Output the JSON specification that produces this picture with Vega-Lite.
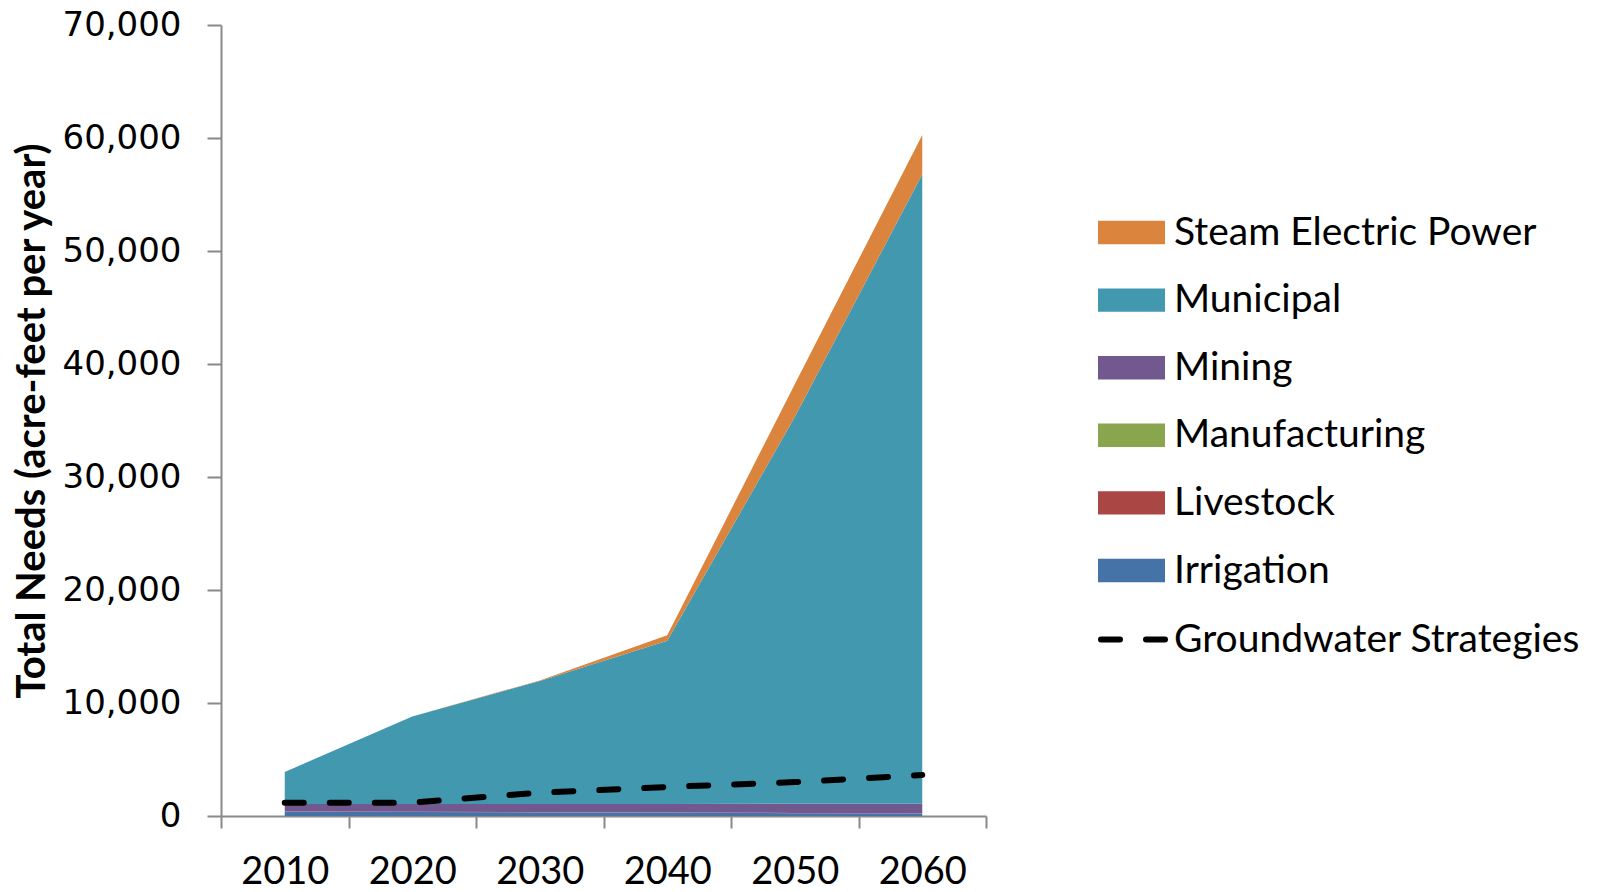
{
  "$schema": "https://vega.github.io/schema/vega-lite/v6.json",
  "width": 765,
  "height": 791,
  "autosize": {"type": "none"},
  "padding": {"left": 221, "top": 25, "right": 622, "bottom": 76},
  "background": "white",
  "config": {"view": {"stroke": null}, "font": "Lato"},
  "datasets": {
    "needs": [
      {"year": 2010, "category": "Irrigation", "value": 380},
      {"year": 2010, "category": "Livestock", "value": 20},
      {"year": 2010, "category": "Manufacturing", "value": 0},
      {"year": 2010, "category": "Mining", "value": 660},
      {"year": 2010, "category": "Municipal", "value": 2840},
      {"year": 2010, "category": "Steam Electric Power", "value": 0},
      {"year": 2020, "category": "Irrigation", "value": 350},
      {"year": 2020, "category": "Livestock", "value": 20},
      {"year": 2020, "category": "Manufacturing", "value": 0},
      {"year": 2020, "category": "Mining", "value": 700},
      {"year": 2020, "category": "Municipal", "value": 7730},
      {"year": 2020, "category": "Steam Electric Power", "value": 0},
      {"year": 2030, "category": "Irrigation", "value": 320},
      {"year": 2030, "category": "Livestock", "value": 20},
      {"year": 2030, "category": "Manufacturing", "value": 0},
      {"year": 2030, "category": "Mining", "value": 730},
      {"year": 2030, "category": "Municipal", "value": 10880},
      {"year": 2030, "category": "Steam Electric Power", "value": 50},
      {"year": 2040, "category": "Irrigation", "value": 280},
      {"year": 2040, "category": "Livestock", "value": 20},
      {"year": 2040, "category": "Manufacturing", "value": 0},
      {"year": 2040, "category": "Mining", "value": 770},
      {"year": 2040, "category": "Municipal", "value": 14430},
      {"year": 2040, "category": "Steam Electric Power", "value": 500},
      {"year": 2050, "category": "Irrigation", "value": 250},
      {"year": 2050, "category": "Livestock", "value": 20},
      {"year": 2050, "category": "Manufacturing", "value": 0},
      {"year": 2050, "category": "Mining", "value": 810},
      {"year": 2050, "category": "Municipal", "value": 34220},
      {"year": 2050, "category": "Steam Electric Power", "value": 2900},
      {"year": 2060, "category": "Irrigation", "value": 220},
      {"year": 2060, "category": "Livestock", "value": 20},
      {"year": 2060, "category": "Manufacturing", "value": 0},
      {"year": 2060, "category": "Mining", "value": 850},
      {"year": 2060, "category": "Municipal", "value": 55710},
      {"year": 2060, "category": "Steam Electric Power", "value": 3470}
    ],
    "gw": [
      {"year": 2010, "series": "Groundwater Strategies", "value": 1180},
      {"year": 2020, "series": "Groundwater Strategies", "value": 1180},
      {"year": 2030, "series": "Groundwater Strategies", "value": 2060},
      {"year": 2040, "series": "Groundwater Strategies", "value": 2570},
      {"year": 2050, "series": "Groundwater Strategies", "value": 3000},
      {"year": 2060, "series": "Groundwater Strategies", "value": 3630}
    ]
  },
  "layer": [
    {
      "data": {"name": "needs"},
      "mark": {"type": "area", "opacity": 1},
      "encoding": {
        "x": {
          "field": "year",
          "type": "quantitative",
          "scale": {"domain": [2005, 2065], "nice": false, "zero": false},
          "axis": {
            "title": null,
            "grid": false,
            "values": [2005, 2010, 2015, 2020, 2025, 2030, 2035, 2040, 2045, 2050, 2055, 2060, 2065],
            "format": "d",
            "labelExpr": "datum.value % 10 == 0 ? datum.label : ''",
            "labelOverlap": false,
            "labelFlush": false,
            "labelFont": "Lato",
            "labelFontSize": 38,
            "labelColor": "black",
            "labelPadding": 25,
            "tickSize": 12,
            "tickWidth": 2,
            "tickColor": "#898989",
            "tickOpacity": {"condition": {"test": "datum.value % 10 == 5", "value": 1}, "value": 0},
            "domainColor": "#898989",
            "domainWidth": 2
          }
        },
        "y": {
          "field": "value",
          "type": "quantitative",
          "stack": "zero",
          "scale": {"domain": [0, 70000], "nice": false},
          "axis": {
            "title": "Total Needs (acre-feet per year)",
            "titleFont": "Lato",
            "titleFontSize": 40,
            "titleFontWeight": "bold",
            "titleColor": "black",
            "titlePadding": 10,
            "grid": false,
            "values": [0, 10000, 20000, 30000, 40000, 50000, 60000, 70000],
            "format": ",d",
            "labelFont": "DejaVu Sans",
            "labelFontSize": 34,
            "labelColor": "black",
            "labelPadding": 26,
            "tickSize": 14,
            "tickWidth": 2,
            "tickColor": "#898989",
            "domainColor": "#898989",
            "domainWidth": 2
          }
        },
        "color": {
          "field": "category",
          "type": "nominal",
          "scale": {
            "domain": ["Steam Electric Power", "Municipal", "Mining", "Manufacturing", "Livestock", "Irrigation"],
            "range": ["#DB843D", "#4198AF", "#71588F", "#89A54E", "#AA4643", "#4572A7"]
          },
          "legend": {
            "orient": "none",
            "legendX": 877,
            "legendY": 174,
            "title": null,
            "padding": 0,
            "symbolType": "M-1,-0.35H1V0.35H-1Z",
            "symbolSize": 4489,
            "symbolStrokeWidth": 0,
            "symbolOpacity": 1,
            "labelFont": "Lato",
            "labelFontSize": 39,
            "labelColor": "black",
            "labelOffset": 9,
            "labelLimit": 600,
            "rowPadding": 13.6
          }
        },
        "order": {"field": "category", "sort": "ascending"}
      }
    },
    {
      "data": {"name": "gw"},
      "mark": {"type": "line", "strokeWidth": 6, "strokeCap": "round", "color": "black"},
      "encoding": {
        "x": {"field": "year", "type": "quantitative"},
        "y": {"field": "value", "type": "quantitative"},
        "strokeDash": {
          "field": "series",
          "type": "nominal",
          "scale": {"domain": ["Groundwater Strategies"], "range": [[19, 26]]},
          "legend": {
            "orient": "none",
            "legendX": 877,
            "legendY": 578,
            "title": null,
            "padding": 0,
            "symbolType": "stroke",
            "symbolSize": 4489,
            "symbolStrokeWidth": 6,
            "symbolStrokeColor": "black",
            "labelFont": "Lato",
            "labelFontSize": 39,
            "labelColor": "black",
            "labelOffset": 3,
            "labelLimit": 600,
            "encode": {"symbols": {"update": {"strokeCap": {"value": "round"}}}}
          }
        }
      }
    }
  ]
}
